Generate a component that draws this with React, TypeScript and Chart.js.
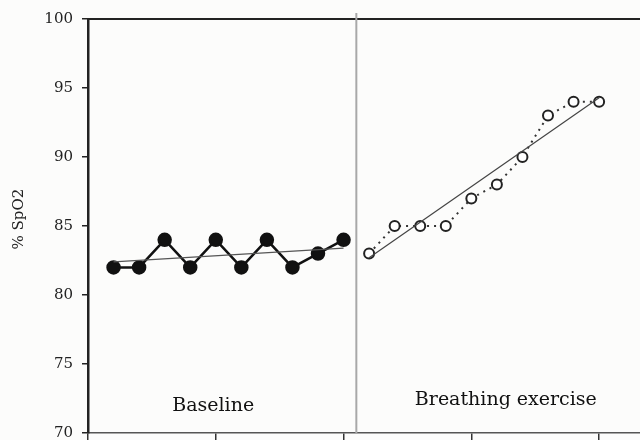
import React, { useEffect, useRef } from "react";
import { Chart, registerables } from "chart.js";

Chart.register(...registerables);

const baselineX = [1, 2, 3, 4, 5, 6, 7, 8, 9, 10];
const baselineY = [82, 82, 84, 82, 84, 82, 84, 82, 83, 84];
const baselineTrendX = [1, 10];
const baselineTrendY = [82.4, 83.4];

const breathingX = [11, 12, 13, 14, 15, 16, 17, 18, 19, 20];
const breathingY = [83, 85, 85, 85, 87, 88, 90, 93, 94, 94];
const breathingTrendX = [11, 20];
const breathingTrendY = [82.7, 94.3];

const yTicks = [70, 75, 80, 85, 90, 95, 100];
const xTicks = [0, 5, 10, 15, 20];
const yTitle = "% SpO2";
const yTitleAt = 85.5;
const phaseLabels = ["Baseline", "Breathing exercise"];
const phaseLabelX = [4.9, 16.35];
const phaseLabelY = [71.95, 72.4];
const dividerX = 10.5;

const SERIF = "'DejaVu Serif', 'Liberation Serif', serif";

const pts = (xs: number[], ys: number[]) => xs.map((x, i) => ({ x, y: ys[i] }));

const decorPlugin = {
  id: "decor",
  afterDatasetsDraw(chart: any) {
    const { ctx, chartArea, scales } = chart;
    const xs = scales.x;
    const ys = scales.y;
    ctx.save();
    // top border
    ctx.strokeStyle = "#222";
    ctx.lineWidth = 2;
    ctx.beginPath();
    ctx.moveTo(chartArea.left - 1, chartArea.top);
    ctx.lineTo(chartArea.right, chartArea.top);
    ctx.stroke();
    // divider
    const dx = xs.getPixelForValue(dividerX);
    ctx.strokeStyle = "#a8a8a8";
    ctx.lineWidth = 2;
    ctx.beginPath();
    ctx.moveTo(dx, chartArea.top - 6);
    ctx.lineTo(dx, chartArea.bottom);
    ctx.stroke();
    // phase labels
    ctx.fillStyle = "#111";
    ctx.font = `19px ${SERIF}`;
    ctx.textAlign = "center";
    ctx.textBaseline = "middle";
    phaseLabels.forEach((t, i) => {
      ctx.fillText(t, xs.getPixelForValue(phaseLabelX[i]), ys.getPixelForValue(phaseLabelY[i]));
    });
    // y title
    ctx.save();
    ctx.translate(19, ys.getPixelForValue(yTitleAt));
    ctx.rotate(-Math.PI / 2);
    ctx.fillStyle = "#222";
    ctx.font = `15px ${SERIF}`;
    ctx.fillText(yTitle, 0, 0);
    ctx.restore();
    ctx.restore();
  },
};

export default function App() {
  const ref = useRef<HTMLCanvasElement>(null);
  useEffect(() => {
    document.body.style.margin = "0";
    const chart = new Chart(ref.current!, {
      type: "line",
      data: {
        datasets: [
          {
            data: pts(baselineTrendX, baselineTrendY),
            borderColor: "#555",
            borderWidth: 1.3,
            pointRadius: 0,
          },
          {
            data: pts(breathingTrendX, breathingTrendY),
            borderColor: "#444",
            borderWidth: 1.3,
            pointRadius: 0,
          },
          {
            data: pts(baselineX, baselineY),
            borderColor: "#111",
            borderWidth: 2.5,
            pointRadius: 6,
            pointBackgroundColor: "#111",
            pointBorderColor: "#111",
          },
          {
            data: pts(breathingX, breathingY),
            borderColor: "#333",
            borderWidth: 2,
            borderDash: [2, 5],
            pointRadius: 5,
            pointBorderWidth: 2,
            pointBackgroundColor: "#fff",
            pointBorderColor: "#222",
          },
        ],
      },
      options: {
        animation: false,
        responsive: false,
        layout: { autoPadding: false, padding: { top: 19, left: 0, right: 0, bottom: 0 } },
        plugins: { legend: { display: false }, tooltip: { enabled: false } },
        scales: {
          x: {
            type: "linear",
            min: 0,
            max: 21.6,
            afterBuildTicks: (s: any) => {
              s.ticks = xTicks.map((v) => ({ value: v }));
            },
            afterFit: (s: any) => {
              s.height = 7;
              s.paddingLeft = 0;
              s.paddingRight = 0;
            },
            ticks: { display: false },
            grid: { drawOnChartArea: false, tickLength: 7, color: "#333", lineWidth: 1.5 },
            border: { color: "#555", width: 1.5 },
          },
          y: {
            min: 70,
            max: 100,
            afterBuildTicks: (s: any) => {
              s.ticks = yTicks.map((v) => ({ value: v }));
            },
            afterFit: (s: any) => {
              s.width = 88;
              s.paddingTop = 0;
              s.paddingBottom = 0;
            },
            ticks: {
              color: "#222",
              padding: 9,
              font: { family: SERIF, size: 15 },
            },
            grid: { drawOnChartArea: false, tickLength: 6, color: "#222", lineWidth: 1.5 },
            border: { color: "#222", width: 2.5 },
          },
        },
      },
      plugins: [decorPlugin],
    });
    return () => chart.destroy();
  }, []);
  return (
    <div style={{ position: "absolute", left: 0, top: 0, width: 640, height: 440, background: "#fcfcfb" }}>
      <canvas ref={ref} width={640} height={440} />
    </div>
  );
}
